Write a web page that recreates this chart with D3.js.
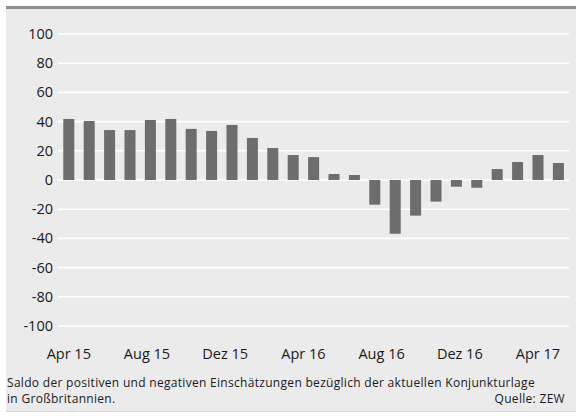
<!DOCTYPE html>
<html><head><meta charset="utf-8">
<script src="https://cdn.jsdelivr.net/npm/d3@7"></script>
<style>
html,body{margin:0;padding:0;background:#fff;}
svg{display:block;font-family:"Open Sans",sans-serif;}
</style></head>
<body><svg id="c" width="576" height="417"></svg>
<script>
const months = ["Apr 15","Mai 15","Jun 15","Jul 15","Aug 15","Sep 15","Okt 15","Nov 15","Dez 15",
  "Jan 16","Feb 16","Mär 16","Apr 16","Mai 16","Jun 16","Jul 16","Aug 16","Sep 16","Okt 16","Nov 16",
  "Dez 16","Jan 17","Feb 17","Mär 17","Apr 17"];
const values = [41.8,40.4,34.2,34.2,41.1,41.8,35.0,33.6,37.7,28.8,21.9,17.1,15.7,4.1,3.4,
  -16.9,-36.8,-24.4,-14.8,-4.6,-5.3,7.5,12.3,17.1,11.6];
const yTicks = [100,80,60,40,20,0,-20,-40,-60,-80,-100];
const xTickLabels = ["Apr 15","Aug 15","Dez 15","Apr 16","Aug 16","Dez 16","Apr 17"];
const caption = ["Saldo der positiven und negativen Einschätzungen bezüglich der aktuellen Konjunkturlage",
  "in Großbritannien."];
const source = "Quelle: ZEW";

const svg = d3.select("#c");
// panel
svg.append("rect").attr("x",6).attr("y",6).attr("width",570).attr("height",406).attr("fill","#ebebeb");
svg.append("rect").attr("x",6).attr("y",6).attr("width",570).attr("height",3).attr("fill","#8f8f8f");
svg.append("rect").attr("x",6).attr("y",411).attr("width",570).attr("height",1).attr("fill","#d6d6d6");

const x = d3.scaleBand().domain(months).range([58.6,568.6]).paddingInner(0.46).paddingOuter(0.23);
const y = d3.scaleLinear().domain([-100,100]).range([326,34]);

// grid
svg.append("g").selectAll("line").data(yTicks).join("line")
  .attr("x1",58).attr("x2",569).attr("y1",d=>y(d)).attr("y2",d=>y(d))
  .attr("stroke","#fff").attr("stroke-width",1.6);
// y labels
svg.append("g").selectAll("text").data(yTicks).join("text")
  .attr("x",53).attr("y",d=>y(d)).attr("dy","0.35em").attr("text-anchor","end")
  .attr("font-size",14.5).attr("fill","#1a1a1a").text(d=>d);
// bars
svg.append("g").selectAll("rect").data(values).join("rect")
  .attr("x",(d,i)=>x(months[i])).attr("width",x.bandwidth())
  .attr("y",d=>y(Math.max(0,d))).attr("height",d=>Math.abs(y(d)-y(0)))
  .attr("fill","#6d6d6d");
// x labels
const xl = d3.scalePoint().domain(xTickLabels)
  .range([x(months[0])+x.bandwidth()/2, x(months[23])+x.bandwidth()/2]);
svg.append("g").selectAll("text").data(xTickLabels).join("text")
  .attr("x",d=>xl(d)).attr("y",359).attr("text-anchor","middle")
  .attr("font-size",14.5).attr("fill","#1a1a1a").text(d=>d);
// caption
svg.append("g").selectAll("text").data(caption).join("text")
  .attr("x",7).attr("y",(d,i)=>387+i*16).attr("font-size",12).attr("letter-spacing",0.3)
  .attr("fill","#1a1a1a").text(d=>d);
svg.append("text").attr("x",565).attr("y",403).attr("text-anchor","end")
  .attr("font-size",12).attr("letter-spacing",0.3).attr("fill","#1a1a1a").text(source);
</script></body></html>
